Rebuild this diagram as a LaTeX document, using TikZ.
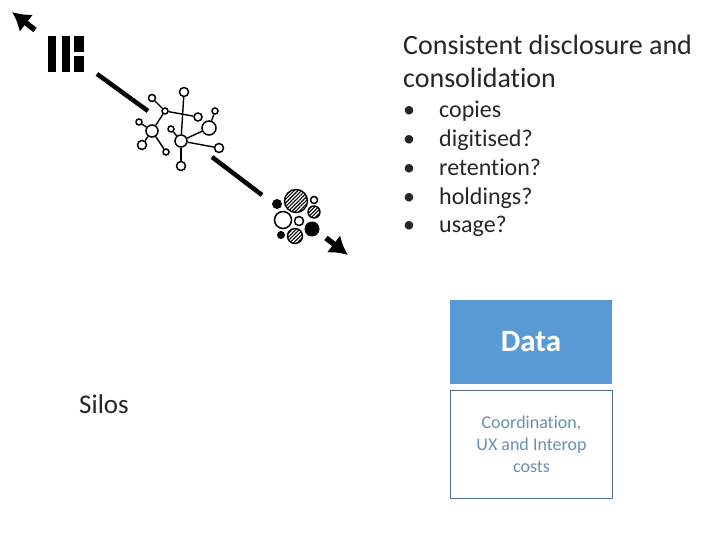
\documentclass[tikz,border=0pt]{standalone}
\usepackage{xcolor}
\usepackage{fontspec}
\setmainfont[Ligatures=NoCommon]{Carlito}
\usetikzlibrary{patterns.meta,arrows.meta}
\definecolor{databox}{HTML}{5B9BD5}
\definecolor{costline}{HTML}{4F6F8F}
\definecolor{costtext}{HTML}{6A8FB3}
\definecolor{inktext}{HTML}{262626}

\begin{document}
\begin{tikzpicture}[
    x=1pt,y=-1pt,
    hub/.style={circle,draw=black,line width=1.5pt,fill=white,inner sep=0pt,minimum size=#1},
    solid/.style={circle,fill=black,inner sep=0pt,minimum size=#1},
    hatch/.style={circle,draw=black,line width=1.4pt,inner sep=0pt,minimum size=#1,
        pattern={Lines[angle=45,distance=2.6pt,line width=1.1pt]}},
    link/.style={line width=1.4pt},
    bar/.style={line width=4.5pt},
    arrow/.style={-{Latex[length=18pt,width=22pt]},line width=5.5pt},
    block/.style={fill=black,inner sep=0pt,anchor=north west},
    heading/.style={inktext,font=\fontsize{28}{33}\selectfont,align=left,anchor=north west,inner sep=0pt},
    item/.style={inktext,font=\fontsize{24}{26}\selectfont,anchor=base west,inner sep=0pt}
]
\useasboundingbox (0,0) rectangle (720,540);

% columns
\node[block,minimum width=8pt,minimum height=36pt] (col1) at (48,36) {};
\node[block,minimum width=8pt,minimum height=36pt] (col2) at (62,36) {};
\node[block,minimum width=10pt,minimum height=16pt] (col3) at (74,36) {};
\node[block,minimum width=10pt,minimum height=16pt] (col4) at (74,56) {};

% arrows and bars
\coordinate (tipA) at (12,12);
\coordinate (tailA) at (35,30);
\coordinate (barAs) at (97,74);
\coordinate (barAe) at (148,111);
\coordinate (barBs) at (212,157);
\coordinate (barBe) at (262,195);
\coordinate (tailB) at (326,238);
\coordinate (tipB) at (348,255);
\draw[arrow] (tailA) -- (tipA);
\draw[bar] (barAs) -- (barAe);
\draw[bar] (barBs) -- (barBe);
\draw[arrow] (tailB) -- (tipB);

% network
\node[hub=9pt] (na) at (184,92) {};
\node[hub=6pt] (nb) at (165,111) {};
\node[hub=7pt] (nc) at (152,98) {};
\node[hub=6pt] (nd) at (139,122) {};
\node[hub=12pt] (ne) at (152,131) {};
\node[hub=9pt] (nf) at (142,145) {};
\node[hub=6pt] (ng) at (166,152) {};
\node[hub=8pt] (nh) at (198,117) {};
\node[hub=6pt] (ni) at (215,111) {};
\node[hub=14pt] (nj) at (209,128) {};
\node[hub=6pt] (nk) at (171,129) {};
\node[hub=12pt] (nl) at (181,141) {};
\node[hub=9pt] (nm) at (219,148) {};
\node[hub=9pt] (nn) at (181,166) {};

\draw[link] (na) -- (nl);
\draw[link] (nb) -- (nh);
\draw[link] (nb) -- (nc);
\draw[link] (nb) -- (ne);
\draw[link] (ne) -- (nd);
\draw[link] (ne) -- (nf);
\draw[link] (ne) -- (ng);
\draw[link] (nl) -- (nj);
\draw[link] (nl) -- (nm);
\draw[link] (nl) -- (nn);
\draw[link] (nj) -- (ni);
\draw[link] (nk) -- (nl);

% cluster
\node[hatch=23pt] (sa) at (296,201) {};
\node[solid=10pt] (sb) at (277,204) {};
\node[hub=7pt] (sc) at (314,200) {};
\node[hatch=12pt] (sd) at (314,212) {};
\node[hub=17pt] (se) at (283,220) {};
\node[hub=9pt] (sf) at (299,221) {};
\node[solid=15pt] (sg) at (312,229) {};
\node[solid=8pt] (sh) at (281,235) {};
\node[hatch=15pt] (si) at (295,236) {};

% text
\node[heading] (title) at (403,35) {Consistent disclosure and\\consolidation};
\node[item] (b1) at (403,118) {•};
\node[item] (b2) at (403,147) {•};
\node[item] (b3) at (403,176) {•};
\node[item] (b4) at (403,205) {•};
\node[item] (b5) at (403,233) {•};
\node[item] (t1) at (439,118) {copies};
\node[item] (t2) at (439,147) {digitised?};
\node[item] (t3) at (439,176) {retention?};
\node[item] (t4) at (439,205) {holdings?};
\node[item] (t5) at (439,233) {usage?};
\node[item,anchor=center,font=\fontsize{27}{28}\selectfont] (silos) at (104,404) {Silos};

% boxes
\node[fill=databox,minimum width=162pt,minimum height=84pt,inner sep=0pt,text=white,
    font=\bfseries\fontsize{31}{34}\selectfont] (data) at (531,342) {Data};
\node[draw=costline,line width=1pt,minimum width=162pt,minimum height=108pt,inner sep=0pt,
    text=costtext,align=center,font=\fontsize{18}{22}\selectfont] (costs) at (531.5,444.5)
    {Coordination,\\UX and Interop\\costs};
\end{tikzpicture}
\end{document}
